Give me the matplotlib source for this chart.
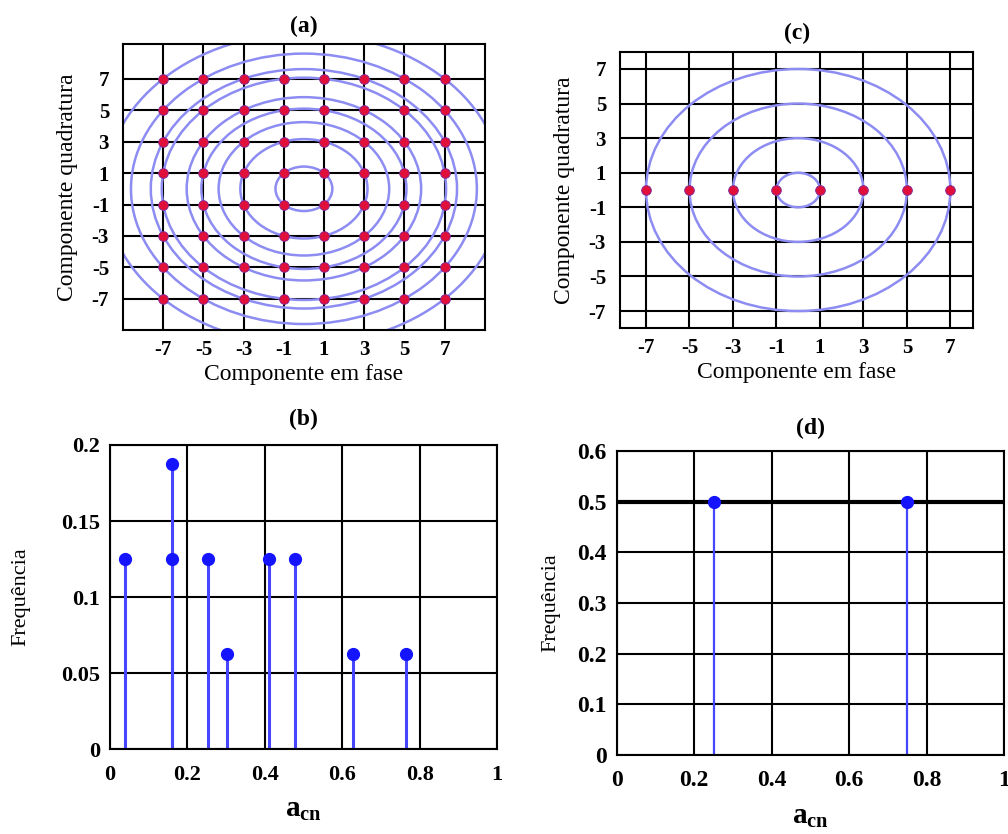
import numpy as np
import matplotlib
matplotlib.use("Agg")
import matplotlib.pyplot as plt
from matplotlib.patches import Circle

plt.rcParams['font.family'] = ['Liberation Serif', 'DejaVu Serif']
plt.rcParams['mathtext.fontset'] = 'custom'
plt.rcParams['mathtext.rm'] = 'Liberation Serif'
plt.rcParams['mathtext.bf'] = 'Liberation Serif:bold'

# constellation levels
qam_levels = [-7, -5, -3, -1, 1, 3, 5, 7]
qam_energy = [2, 10, 18, 26, 34, 50, 58, 74, 98]   # radius^2 of contour circles (a)
pam_levels = [-7, -5, -3, -1, 1, 3, 5, 7]
pam_radii = [1, 3, 5, 7]                           # contour circles (c)

# frequency histograms
acn_b = [0.04, 0.16, 0.16, 0.252, 0.302, 0.412, 0.478, 0.627, 0.766]
freq_b = [0.125, 0.1875, 0.125, 0.125, 0.0625, 0.125, 0.125, 0.0625, 0.0625]
acn_d = [0.25, 0.75]
freq_d = [0.5, 0.5]

tick_labels = ['-7', '-5', '-3', '-1', '1', '3', '5', '7']

contour_col = '#8c8cf2'
dot_col = '#e0103a'
stem_col = '#4646ff'
mark_col = '#1414ff'

fig = plt.figure(figsize=(10.08, 8.34), dpi=100)


def grid_box(ax):
    ax.grid(True, color='black', lw=1.5)
    ax.set_axisbelow(True)
    for s in ax.spines.values():
        s.set_linewidth(1.5)
    ax.tick_params(length=0)


# ---- (a) 64-QAM
ax = fig.add_axes([0.122, 0.604, 0.359, 0.343])
grid_box(ax)
for e in qam_energy:
    ax.add_patch(Circle((0, 0), np.sqrt(e), fill=False, ec=contour_col, lw=1.8, zorder=2))
xx, yy = np.meshgrid(qam_levels, qam_levels)
ax.plot(xx.ravel(), yy.ravel(), 'o', color=dot_col, mec='#7a2aa0', mew=0.6, ms=7, zorder=3)
ax.set_xlim(-9, 9)
ax.set_ylim(-9, 9.2)
ax.set_xticks(qam_levels)
ax.set_yticks(qam_levels)
ax.set_xticklabels(tick_labels, fontsize=15, fontweight='bold')
ax.set_yticklabels(tick_labels, fontsize=15, fontweight='bold')
ax.tick_params(axis='x', pad=7)
ax.tick_params(axis='y', pad=10)
ax.set_xlabel('Componente em fase', fontsize=17, labelpad=3)
ax.set_ylabel('Componente quadratura', fontsize=17, labelpad=10)
ax.set_title('(a)', fontsize=17, fontweight='bold', pad=9)

# ---- (c) 8-PAM
ax = fig.add_axes([0.615, 0.6063, 0.3505, 0.3317])
grid_box(ax)
for r in pam_radii:
    ax.add_patch(Circle((0, 0), r, fill=False, ec=contour_col, lw=1.8, zorder=2))
ax.plot(pam_levels, np.zeros(len(pam_levels)), 'o', color=dot_col, mec='#7a2aa0', mew=0.6, ms=7, zorder=3)
ax.set_xlim(-8.2, 8.05)
ax.set_ylim(-8, 8)
ax.set_xticks(qam_levels)
ax.set_yticks(qam_levels)
ax.set_xticklabels(tick_labels, fontsize=15, fontweight='bold')
ax.set_yticklabels(tick_labels, fontsize=15, fontweight='bold')
ax.tick_params(axis='x', pad=7)
ax.tick_params(axis='y', pad=10)
ax.set_xlabel('Componente em fase', fontsize=17, labelpad=3)
ax.set_ylabel('Componente quadratura', fontsize=17, labelpad=10)
ax.set_title('(c)', fontsize=17, fontweight='bold', pad=9)

# ---- (b)
ax = fig.add_axes([0.1091, 0.1016, 0.384, 0.3649])
grid_box(ax)
ax.vlines(acn_b, 0, freq_b, color=stem_col, lw=2.2, zorder=2)
ax.plot(acn_b, freq_b, 'o', color=mark_col, ms=8.5, zorder=3)
ax.set_xlim(0, 1)
ax.set_ylim(0, 0.2)
ax.set_xticks([0, 0.2, 0.4, 0.6, 0.8, 1])
ax.set_xticklabels(['0', '0.2', '0.4', '0.6', '0.8', '1'], fontsize=16, fontweight='bold')
ax.set_yticks([0, 0.05, 0.1, 0.15, 0.2])
ax.set_yticklabels(['0', '0.05', '0.1', '0.15', '0.2'], fontsize=16, fontweight='bold')
ax.tick_params(axis='x', pad=11)
ax.tick_params(axis='y', pad=7)
ax.set_xlabel(r'$\mathbf{a_{cn}}$', fontsize=21, labelpad=9)
ax.set_ylabel('Frequência', fontsize=16, labelpad=22)
ax.set_title('(b)', fontsize=17, fontweight='bold', pad=14)

# ---- (d)
ax = fig.add_axes([0.6118, 0.0947, 0.3843, 0.3645])
grid_box(ax)
ax.axhline(0.5, color='black', lw=3, zorder=1)
ax.vlines(acn_d, 0, freq_d, color=stem_col, lw=1.6, zorder=2)
ax.plot(acn_d, freq_d, 'o', color=mark_col, ms=8.5, zorder=3)
ax.set_xlim(0, 1)
ax.set_ylim(0, 0.6)
ax.set_xticks([0, 0.2, 0.4, 0.6, 0.8, 1])
ax.set_xticklabels(['0', '0.2', '0.4', '0.6', '0.8', '1'], fontsize=17, fontweight='bold')
ax.set_yticks([0, 0.1, 0.2, 0.3, 0.4, 0.5, 0.6])
ax.set_yticklabels(['0', '0.1', '0.2', '0.3', '0.4', '0.5', '0.6'], fontsize=17, fontweight='bold')
ax.tick_params(axis='x', pad=11)
ax.tick_params(axis='y', pad=7)
ax.set_xlabel(r'$\mathbf{a_{cn}}$', fontsize=21, labelpad=9)
ax.set_ylabel('Frequência', fontsize=16, labelpad=12)
ax.set_title('(d)', fontsize=17, fontweight='bold', pad=12)

fig.savefig('out.png', dpi=100)
